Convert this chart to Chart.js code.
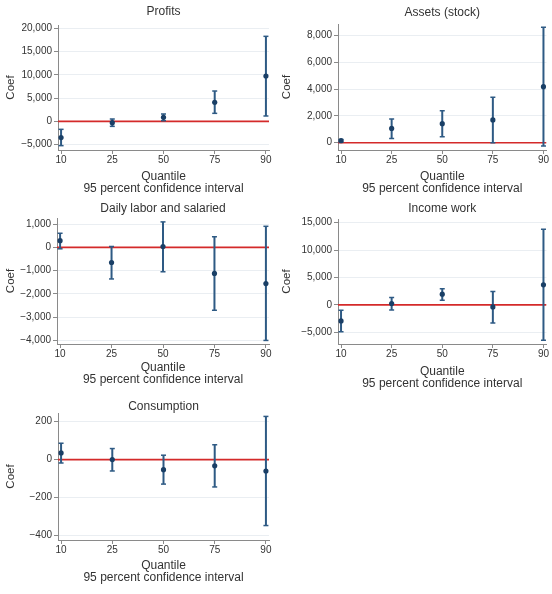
<!DOCTYPE html>
<html>
<head>
<meta charset="utf-8">
<script src="https://cdn.jsdelivr.net/npm/chart.js@4"></script>
<style>
  html, body { margin: 0; padding: 0; background: #ffffff; }
  body { width: 552px; height: 594px; position: relative; overflow: hidden; }
  .panel { position: absolute; }
</style>
</head>
<body>
<div class="panel" id="p1"><canvas id="c1"></canvas></div>
<div class="panel" id="p2"><canvas id="c2"></canvas></div>
<div class="panel" id="p3"><canvas id="c3"></canvas></div>
<div class="panel" id="p4"><canvas id="c4"></canvas></div>
<div class="panel" id="p5"><canvas id="c5"></canvas></div>
<script>
// ---- data ----
const quantiles = ['10', '25', '50', '75', '90'];

const profitsCoef = [-3500, -290, 860, 4090, 9750];
const profitsLo   = [-5230, -1080, 140, 1720, 1150];
const profitsHi   = [-1720, 500, 1580, 6520, 18280];
const profitsTicks = [-5000, 0, 5000, 10000, 15000, 20000];

const assetsCoef = [150, 1070, 1420, 1700, 4190];
const assetsLo   = [60, 320, 450, 0, -250];
const assetsHi   = [240, 1770, 2390, 3390, 8630];
const assetsTicks = [0, 2000, 4000, 6000, 8000];

const laborCoef = [290, -650, 40, -1120, -1560];
const laborLo   = [-60, -1360, -1050, -2710, -4010];
const laborHi   = [610, 40, 1100, 460, 910];
const laborTicks = [-4000, -3000, -2000, -1000, 0, 1000];

const incomeCoef = [-2930, 240, 1950, -370, 3660];
const incomeLo   = [-4880, -920, 850, -3290, -6460];
const incomeHi   = [-980, 1340, 2930, 2440, 13780];
const incomeTicks = [-5000, 0, 5000, 10000, 15000];

const consCoef = [35, 0, -53, -33, -60];
const consLo   = [-18, -60, -129, -144, -347];
const consHi   = [86, 58, 23, 78, 227];
const consTicks = [-400, -200, 0, 200];

const titles = ['Profits', 'Assets (stock)', 'Daily labor and salaried', 'Income work', 'Consumption'];
const yTitle = 'Coef';
const xTitle = ['Quantile', '95 percent confidence interval'];

// ---- styles ----
const FONT = "'Liberation Sans', Arial, Helvetica, sans-serif";
const TEXT = '#333333';
const NAVY = '#1a3f66';
const CI = '#2e5a84';
const RED = '#d42a2a';
const GRID = '#eaeef2';
const AXIS = '#8a8a8a';
const XPAD = 0.06;

function fmt(v) {
  const s = Math.abs(v).toLocaleString('en-US');
  return v < 0 ? '\u2212' + s : s;
}

// layout per panel (absolute px)
const panels = [
  {id: 'p1', canvas: 'c1', left: 0,   top: 0,   h: 198, plotLeft: 58,  plotRight: 269, plotTop: 25,  plotBottom: 150, titleY: 12,  subY: 189,
   coef: profitsCoef, lo: profitsLo, hi: profitsHi, ticks: profitsTicks, min: -6165, max: 20717, title: titles[0]},
  {id: 'p2', canvas: 'c2', left: 276, top: 0,   h: 198, plotLeft: 338, plotRight: 550, plotTop: 24,  plotBottom: 150, titleY: 13,  subY: 189,
   coef: assetsCoef, lo: assetsLo, hi: assetsHi, ticks: assetsTicks, min: -546, max: 8875, title: titles[1]},
  {id: 'p3', canvas: 'c3', left: 0,   top: 195, h: 196, plotLeft: 57,  plotRight: 269, plotTop: 218, plotBottom: 344, titleY: 209, subY: 380,
   coef: laborCoef, lo: laborLo, hi: laborHi, ticks: laborTicks, min: -4164, max: 1268, title: titles[2]},
  {id: 'p4', canvas: 'c4', left: 276, top: 195, h: 198, plotLeft: 338, plotRight: 550, plotTop: 219, plotBottom: 344, titleY: 209, subY: 384,
   coef: incomeCoef, lo: incomeLo, hi: incomeHi, ticks: incomeTicks, min: -7134, max: 15670, title: titles[3]},
  {id: 'p5', canvas: 'c5', left: 0,   top: 390, h: 198, plotLeft: 58,  plotRight: 269, plotTop: 413, plotBottom: 540, titleY: 407, subY: 578,
   coef: consCoef, lo: consLo, hi: consHi, ticks: consTicks, min: -423, max: 245, title: titles[4]}
];

const W = 276;
const TITLE_LH = 12;      // title font 12, lineHeight 1
const XT_LH = 12.5;

panels.forEach(p => {
  const div = document.getElementById(p.id);
  div.style.left = p.left + 'px';
  div.style.top = p.top + 'px';
  div.style.width = W + 'px';
  div.style.height = p.h + 'px';

  const padTop = p.titleY - p.top - TITLE_LH / 2;
  const padBottom = p.plotTop - p.top - TITLE_LH - padTop;
  const yWidth = p.plotLeft - p.left;
  const padRight = p.left + W - p.plotRight;
  const xTitleBottomPad = p.h - (p.subY + XT_LH / 2 - p.top);
  const xHeight = p.h - (p.plotBottom - p.top);

  const ciData = [];
  const capData = [];
  const ptData = [];
  quantiles.forEach((q, i) => {
    ciData.push({x: i, y: p.lo[i]}, {x: i, y: p.hi[i]}, {x: i, y: null});
    capData.push({x: i, y: p.lo[i]}, {x: i, y: p.hi[i]});
    ptData.push({x: i, y: p.coef[i]});
  });

  new Chart(document.getElementById(p.canvas), {
    type: 'scatter',
    data: {
      datasets: [
        {type: 'line', data: [{x: -XPAD, y: 0}, {x: quantiles.length - 1 + XPAD, y: 0}],
         borderColor: RED, borderWidth: 1.6, pointRadius: 0, order: 4},
        {type: 'line', data: ciData, borderColor: CI, borderWidth: 2, pointRadius: 0,
         spanGaps: false, order: 3},
        {data: capData, pointStyle: 'line', pointRadius: 2.5, borderColor: CI, borderWidth: 1.5,
         backgroundColor: CI, order: 2},
        {data: ptData, pointStyle: 'circle', pointRadius: 2.6, backgroundColor: NAVY,
         borderColor: NAVY, borderWidth: 0, order: 1}
      ]
    },
    options: {
      responsive: true,
      maintainAspectRatio: false,
      animation: false,
      devicePixelRatio: 1,
      layout: {padding: {left: 0, right: padRight, top: 0, bottom: 0}},
      plugins: {
        legend: {display: false},
        tooltip: {enabled: false},
        title: {
          display: true, text: p.title, fullSize: false, color: TEXT,
          font: {family: FONT, size: 12, weight: 'normal', lineHeight: 1},
          padding: {top: padTop, bottom: padBottom}
        }
      },
      scales: {
        x: {
          type: 'linear',
          min: -XPAD, max: quantiles.length - 1 + XPAD,
          afterBuildTicks: s => { s.ticks = quantiles.map((q, i) => ({value: i})); },
          afterFit: s => { s.height = xHeight; s.paddingLeft = 0; s.paddingRight = 0; },
          ticks: {
            callback: v => quantiles[v] !== undefined ? quantiles[v] : '',
            color: TEXT, font: {family: FONT, size: 10}, padding: 0, maxRotation: 0, autoSkip: false
          },
          grid: {drawOnChartArea: false, drawTicks: true, tickLength: 4, tickColor: AXIS, tickWidth: 1},
          border: {display: true, color: AXIS, width: 1},
          title: {
            display: true, text: xTitle, color: TEXT,
            font: {family: FONT, size: 12, lineHeight: XT_LH / 12},
            padding: {top: 0, bottom: xTitleBottomPad}
          }
        },
        y: {
          type: 'linear',
          min: p.min, max: p.max,
          afterBuildTicks: s => { s.ticks = p.ticks.map(v => ({value: v})); },
          afterFit: s => { s.width = yWidth; },
          ticks: {
            callback: v => fmt(v),
            color: TEXT, font: {family: FONT, size: 10}, padding: 2, autoSkip: false
          },
          grid: {color: GRID, lineWidth: 1, drawTicks: true, tickLength: 4, tickColor: AXIS, tickWidth: 1},
          border: {display: true, color: AXIS, width: 1},
          title: {
            display: true, text: yTitle, color: TEXT,
            font: {family: FONT, size: 11.5, lineHeight: 1.2},
            padding: {top: 4, bottom: 0}
          }
        }
      }
    }
  });
});
</script>
</body>
</html>
